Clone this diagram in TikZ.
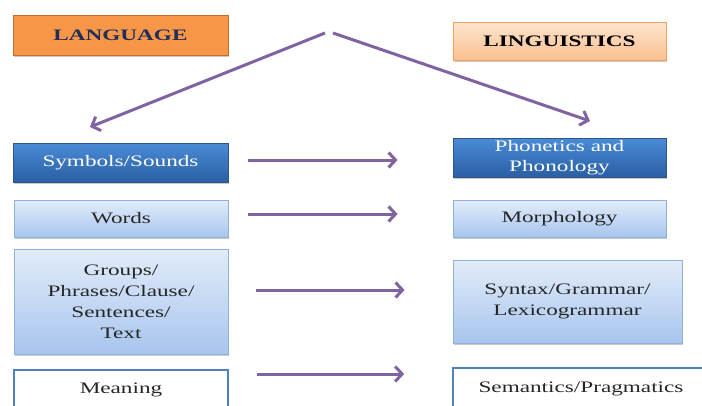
\documentclass[tikz,border=0pt]{standalone}
\usepackage{fontspec}
\setmainfont[FakeStretch=1.45]{Liberation Serif}
\usetikzlibrary{arrows.meta,shadows}
\definecolor{arrowpurple}{HTML}{8064A2}
\definecolor{orangefill}{HTML}{F79646}
\definecolor{orangeline}{HTML}{C0702E}
\definecolor{navytext}{HTML}{1F2F5A}
\definecolor{peachtop}{HTML}{FDE4CF}
\definecolor{peachbot}{HTML}{FAC08F}
\definecolor{peachline}{HTML}{F5A15E}
\definecolor{bluetop}{HTML}{4A8BD6}
\definecolor{bluebot}{HTML}{2A5FA3}
\definecolor{blueline}{HTML}{2F5589}
\definecolor{lbtop}{HTML}{E2ECF9}
\definecolor{lbbot}{HTML}{A8C5EE}
\definecolor{lbline}{HTML}{8EB1DD}
\definecolor{plainline}{HTML}{4F81BD}
\tikzset{
  every node/.style={font=\fontsize{16}{20}\selectfont, align=center, inner sep=0pt},
  shad/.style={drop shadow={shadow xshift=1.2pt, shadow yshift=-1.5pt, opacity=0.35, fill=black!60}},
  langbox/.style={shad, draw=orangeline, line width=0.8pt, fill=orangefill, text=navytext, font=\fontsize{16}{20}\selectfont\bfseries},
  lingbox/.style={shad, draw=peachline, line width=0.8pt, top color=peachtop, bottom color=peachbot, text=black, font=\fontsize{16}{20}\selectfont\bfseries},
  bluebox/.style={shad, draw=blueline, line width=0.8pt, top color=bluetop, bottom color=bluebot, text=white},
  lightbox/.style={shad, draw=lbline, line width=0.8pt, top color=lbtop, bottom color=lbbot, text=black!85},
  plainbox/.style={shad, draw=plainline, line width=1.6pt, fill=white, text=black!85},
  arr/.style={draw=arrowpurple, line width=3pt, -{Straight Barb[length=7pt,width=15pt]}}
}
\begin{document}
\begin{tikzpicture}[x=1pt,y=-1pt]
\useasboundingbox (0,0) rectangle (702,405);
\clip (0,0) rectangle (702,405);
\node[langbox, minimum width=215pt, minimum height=40pt] (lang) at (120.5,35) {LANGUAGE};
\node[lingbox, minimum width=213pt, minimum height=38pt] (ling) at (559.5,41) {LINGUISTICS};
\node[bluebox, minimum width=215pt, minimum height=39pt] (sym) at (120.5,162.5) {Symbols/Sounds};
\node[bluebox, minimum width=213pt, minimum height=39pt, font=\fontsize{16}{20}\selectfont] (phon) at (559.5,157.5) {Phonetics and\\Phonology};
\node[lightbox, minimum width=214pt, minimum height=37pt] (words) at (121,218.5) {Words};
\node[lightbox, minimum width=213pt, minimum height=37pt] (morph) at (559.5,218.5) {Morphology};
\node[lightbox, minimum width=214pt, minimum height=105pt, font=\fontsize{16}{21}\selectfont] (grp) at (121,301.5) {Groups/\\Phrases/Clause/\\Sentences/\\Text};
\node[lightbox, minimum width=229pt, minimum height=83pt, font=\fontsize{16}{21}\selectfont] (syn) at (567.5,301.5) {Syntax/Grammar/\\Lexicogrammar};
\node[plainbox, minimum width=214pt, minimum height=40pt] (mean) at (121,390) {Meaning};
\node[plainbox, minimum width=256pt, minimum height=42pt] (sem) at (581,389) {Semantics/Pragmatics};
\coordinate (apexL) at (325,33);
\coordinate (apexR) at (333,33);
\coordinate (tipL) at (90,127);
\coordinate (tipR) at (590,121);
\draw[arr] (apexL) -- (tipL);
\draw[arr] (apexR) -- (tipR);
\draw[arr, shorten <=20pt, shorten >=55pt] ([yshift=2.5pt]sym.east) -- ([yshift=2.5pt]sym.east -| phon.west);
\draw[arr, shorten <=20pt, shorten >=55pt] ([yshift=4.5pt]words.east) -- ([yshift=4.5pt]words.east -| morph.west);
\draw[arr, shorten <=28pt, shorten >=48pt] ([yshift=11.5pt]grp.east) -- ([yshift=11.5pt]grp.east -| syn.west);
\draw[arr, shorten <=28pt, shorten >=48pt] ([yshift=16pt]mean.east) -- ([yshift=16pt]mean.east -| sem.west);
\end{tikzpicture}
\end{document}
